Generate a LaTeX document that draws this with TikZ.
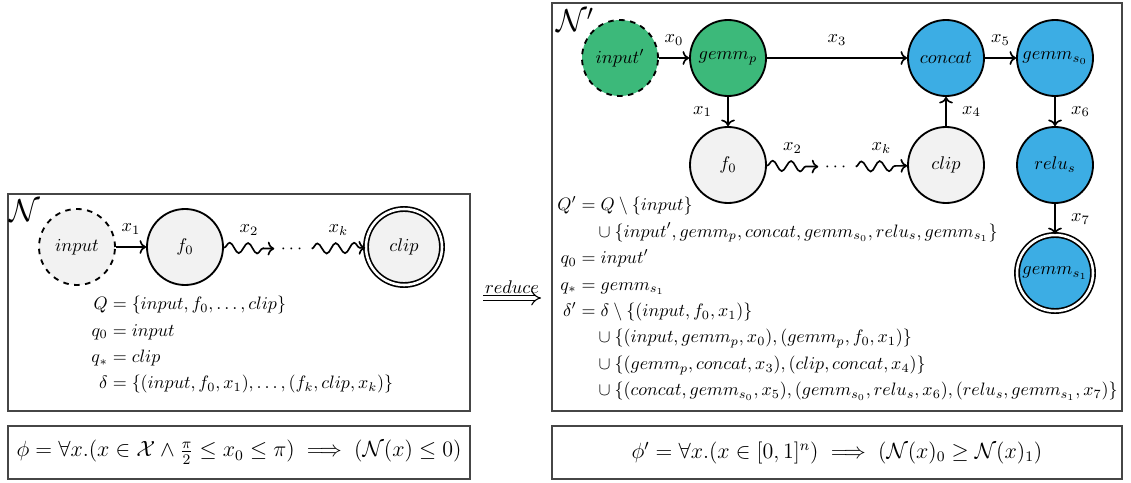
\documentclass[tikz,border=0pt]{standalone}
\usepackage{amsmath, amssymb}
\usepackage{graphicx}
\usepackage{xcolor}
\usepackage{tikz}
\usetikzlibrary{arrows.meta, positioning, decorations.pathmorphing}
\definecolor{origcol}{RGB}{242,242,242}
\definecolor{precol}{RGB}{60,185,122}
\definecolor{suffcol}{RGB}{60,173,228}
\definecolor{framecol}{RGB}{70,70,70}
\setlength{\jot}{2.7pt}
\newcommand{\pxu}{0.545pt}

\begin{document}
\begin{tikzpicture}[x=\pxu, y=\pxu,
  layer/.style={circle, draw, line width=1pt, minimum size=76*\pxu, inner sep=0pt},
  orig/.style={layer, fill=origcol},
  pre/.style={layer, fill=precol},
  suff/.style={layer, fill=suffcol},
  inlayer/.style={dashed},
  outlayer/.style={double, double distance=1.4pt, line width=0.9pt},
  flow/.style={line width=0.9pt, ->},
  wavy/.style={line width=0.9pt, ->, decorate,
    decoration={snake, amplitude=2.8pt, segment length=10pt, post length=2.5pt}},
  eqs/.style={anchor=west},
  frame/.style={draw=framecol, line width=0.6pt, inner sep=0pt}]
\useasboundingbox (0,0) rectangle (1131,-483);
% Frames
\node[frame, minimum width=462*\pxu, minimum height=217*\pxu] (netbox) at (239,-302.5) {};
\node[frame, minimum width=570*\pxu, minimum height=408*\pxu] (redbox) at (837,-207) {};
\node[frame, minimum width=462*\pxu, minimum height=53*\pxu] (phi) at (239,-452.5)
  {\large $\phi = \forall x.(x \in \mathcal{X} \land \frac{\pi}{2} \leq x_0 \leq \pi) \implies (\mathcal{N}(x) \leq 0)$};
\node[frame, minimum width=570*\pxu, minimum height=53*\pxu] (phiprime) at (837,-452.5)
  {\large $\phi' = \forall x.(x \in [0,1]^n) \implies (\mathcal{N}(x)_0 \geq \mathcal{N}(x)_1)$};
\node (netname) at (25,-211) {\LARGE $\mathcal{N}$};
\node (redname) at (575,-20) {\LARGE $\mathcal{N}'$};
% Original network
\node[orig, inlayer] (in) at (77,-247) {$input$};
\node[orig] (f0) at (185,-247) {$f_0$};
\node (dots) at (293,-249) {$\cdots$};
\node[orig, outlayer] (clip) at (404,-247) {$clip$};
\draw[flow] (in) -- node[above=3pt] {$x_1$} (f0);
\draw[wavy] (f0) -- node[above=3pt] {$x_2$} (dots);
\draw[wavy] (dots) -- node[above=3pt] {$x_k$} (clip);
\node[eqs] (neteq) at (85,-345) {\scalebox{0.98}{$\begin{aligned}
  Q &= \{input, f_0, \ldots, clip\}\\
  q_0 &= input\\
  q_* &= clip\\
  \delta &= \{(input, f_0, x_1), \ldots, (f_k, clip, x_k)\}
\end{aligned}$}};
% Reduction arrow
\coordinate (redA) at (483,-298);
\coordinate (redB) at (541,-298);
\draw[double, double distance=2.2pt, semithick, -{Implies}] (redA) -- node[above=-1pt] {$reduce$} (redB);
% Reduced network
\node[pre, inlayer] (inp) at (620,-58) {$input'$};
\node[pre] (gemmp) at (728,-58) {$gemm_p$};
\node[suff] (concat) at (946,-58) {$concat$};
\node[suff] (gemms0) at (1055,-58) {$gemm_{s_0}$};
\node[orig] (rf0) at (728,-165) {$f_0$};
\node (rdots) at (837,-167) {$\cdots$};
\node[orig] (rclip) at (946,-165) {$clip$};
\node[suff] (relus) at (1055,-165) {$relu_s$};
\node[suff, outlayer] (gemms1) at (1055,-273) {$gemm_{s_1}$};
\draw[flow] (inp) -- node[above=3pt] {$x_0$} (gemmp);
\draw[flow] (gemmp) -- node[above=3pt] {$x_3$} (concat);
\draw[flow] (concat) -- node[above=3pt] {$x_5$} (gemms0);
\draw[flow] (gemmp) -- node[left=5pt] {$x_1$} (rf0);
\draw[wavy] (rf0) -- node[above=3pt] {$x_2$} (rdots);
\draw[wavy] (rdots) -- node[above=3pt] {$x_k$} (rclip);
\draw[flow] (rclip) -- node[right=5pt] {$x_4$} (concat);
\draw[flow] (gemms0) -- node[right=5pt] {$x_6$} (relus);
\draw[flow] (relus) -- node[right=5pt] {$x_7$} (gemms1);
\node[eqs] (redeq) at (551,-299) {\scalebox{0.98}{$\begin{aligned}
  Q' &= Q \setminus \{input\}\\
  &\quad \cup \{input', gemm_p, concat, gemm_{s_0}, relu_s, gemm_{s_1}\}\\
  q_0 &= input'\\
  q_* &= gemm_{s_1}\\
  \delta' &= \delta \setminus \{(input, f_0, x_1)\}\\
  &\quad \cup \{(input, gemm_p, x_0), (gemm_p, f_0, x_1)\}\\
  &\quad \cup \{(gemm_p, concat, x_3), (clip, concat, x_4)\}\\
  &\quad \cup \{(concat, gemm_{s_0}, x_5), (gemm_{s_0}, relu_s, x_6), (relu_s, gemm_{s_1}, x_7)\}
\end{aligned}$}};
\end{tikzpicture}
\end{document}
